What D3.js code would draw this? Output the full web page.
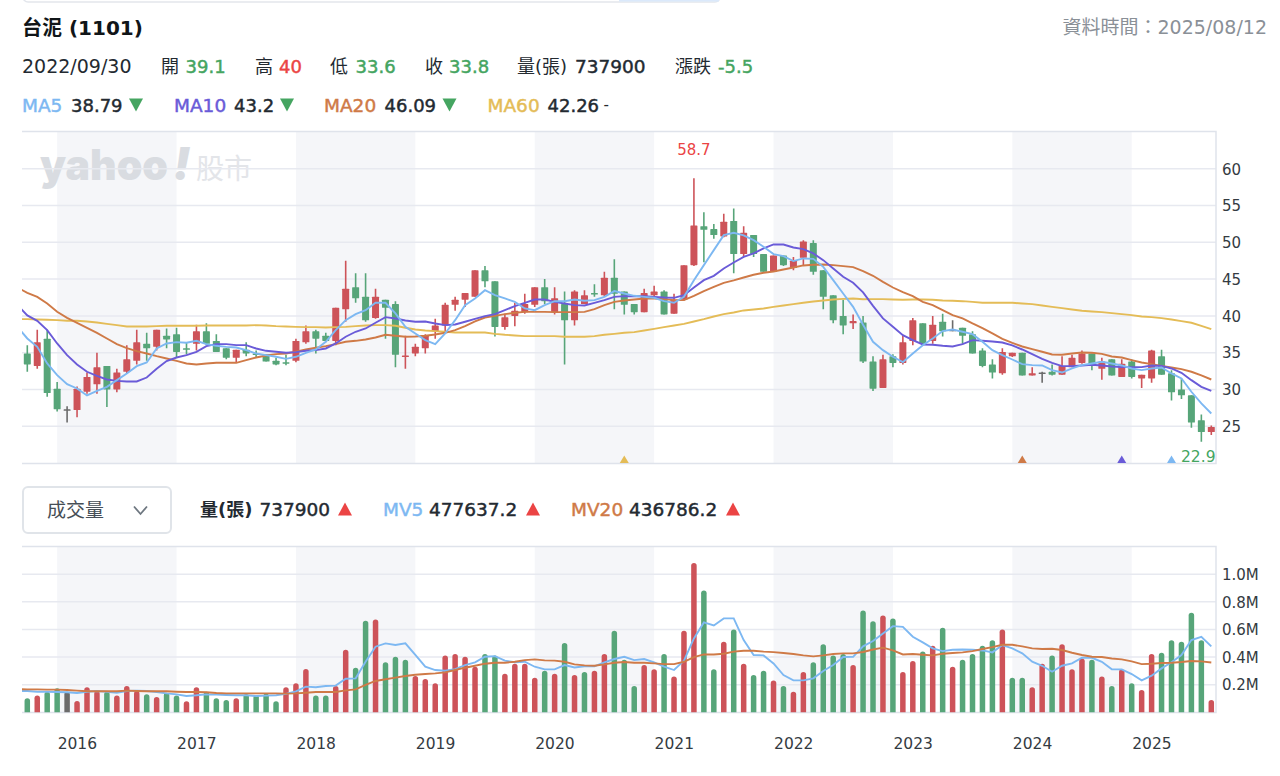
<!DOCTYPE html>
<html lang="zh-Hant">
<head>
  <meta charset="UTF-8">
  <title>台泥 (1101)</title>
  <script src="https://cdn.jsdelivr.net/npm/d3@7"></script>
  <style>
    body { margin: 0; background: #fff; }
    svg { display: block; }
    text { font-family: "DejaVu Sans", "Noto Sans CJK TC", sans-serif; fill: #232a31; }
  </style>
</head>
<body>
  <div id="container"></div>

  <script>
    // Monthly bars, 2015/09 to 2025/08
    const months = d3.utcMonths(new Date(Date.UTC(2015, 8, 1)), new Date(Date.UTC(2025, 8, 1)));

    const opens = [
      34.9,33.2,36.9,30.1,27.3,27.2,29.7,30.7,33.2,30.0,
      32.4,33.9,36.2,35.8,37.3,37.5,35.6,36.2,37.9,36.6,
      35.6,34.3,35.4,34.9,34.8,33.9,33.7,33.9,36.4,37.9,
      37.3,36.6,40.9,43.9,42.6,39.7,42.2,41.6,34.5,34.9,
      35.6,37.9,38.7,41.5,42.2,42.6,46.2,44.7,38.5,40.0,
      40.5,41.5,43.9,40.5,41.6,39.4,41.6,43.1,42.8,45.2,
      43.3,41.6,40.5,42.8,43.3,40.3,42.2,46.9,52.2,51.8,
      50.8,52.9,48.4,51.0,48.4,46.0,48.2,46.5,47.9,49.9,
      46.2,42.8,40.0,39.0,39.1,33.8,30.2,34.5,33.6,36.6,
      39.0,36.6,39.2,38.1,38.4,37.5,35.3,33.4,32.2,34.5,
      35.0,31.9,32.3,32.4,32.0,33.0,33.6,34.9,32.8,34.1,
      31.7,33.8,31.5,31.5,34.5,32.2,30.0,29.2,25.8,24.2
    ];
    const closes = [
      33.4,36.4,29.5,27.3,27.3,30.1,31.7,33.0,30.0,32.3,
      34.1,36.4,35.6,38.1,36.8,35.1,35.4,37.9,36.2,35.1,
      34.3,35.4,34.9,34.8,33.8,33.4,33.6,36.6,37.9,36.9,
      36.6,41.1,43.7,42.4,39.4,42.6,41.1,34.7,34.6,35.8,
      37.3,38.7,41.5,42.2,43.1,46.2,44.7,38.5,39.8,40.7,
      41.6,43.9,42.0,42.4,39.4,43.3,42.8,42.9,45.2,43.0,
      41.5,40.5,43.1,43.3,40.2,42.2,46.9,52.3,51.7,51.0,
      52.8,48.4,51.3,48.4,46.0,48.2,46.9,47.5,50.1,46.0,
      42.6,39.4,38.7,39.3,33.8,30.1,34.1,33.6,36.4,39.4,
      36.2,38.8,37.9,38.1,37.3,34.9,33.2,32.3,35.1,35.0,
      31.9,32.2,32.3,32.0,33.2,34.3,34.9,33.2,33.8,31.9,
      33.5,31.7,32.0,35.3,32.0,29.6,29.2,25.5,24.2,24.9
    ];
    const highs = [
      36.0,38.1,38.1,31.0,27.7,30.4,32.3,35.0,33.2,32.8,
      36.0,38.1,37.7,38.1,38.3,38.4,36.3,38.8,39.0,37.5,
      35.6,35.4,36.4,35.3,34.8,34.3,34.7,36.9,38.7,38.1,
      37.7,41.1,47.5,45.8,45.8,43.7,42.2,42.0,37.3,36.2,
      37.5,39.6,41.8,42.6,43.1,46.2,46.8,44.7,40.3,41.8,
      43.0,43.9,45.0,43.9,43.3,43.5,43.5,44.3,46.0,47.7,
      43.3,41.6,43.7,44.1,43.5,43.0,46.9,58.7,54.1,52.5,
      53.9,54.6,52.2,51.0,48.4,48.2,48.2,48.0,50.3,50.3,
      46.2,42.8,42.2,40.2,40.0,34.5,34.7,34.8,37.3,39.7,
      39.0,40.0,40.3,39.4,38.4,37.9,35.6,34.1,35.6,35.0,
      35.0,33.0,32.4,33.4,34.5,34.7,35.3,34.9,34.3,34.1,
      34.1,34.1,32.0,35.4,35.4,32.6,31.5,29.2,26.6,25.1
    ];
    const lows = [
      32.4,32.8,29.0,27.0,25.5,26.2,29.4,29.4,27.6,29.6,
      32.2,33.4,33.9,35.3,35.6,34.3,34.8,35.3,36.0,35.1,
      34.1,33.7,34.5,34.3,33.8,33.3,33.3,33.7,36.2,34.9,
      36.4,36.0,39.2,41.8,39.2,39.6,36.9,33.0,32.8,34.5,
      34.9,36.9,37.9,40.7,41.2,42.6,43.9,37.2,38.1,38.6,
      40.3,41.2,41.6,40.2,33.4,38.7,41.6,42.6,42.6,40.9,
      40.2,40.2,40.5,42.6,40.2,40.3,42.1,46.8,47.3,50.5,
      50.7,45.8,48.0,48.0,46.0,46.0,46.8,46.2,46.9,45.6,
      40.9,39.0,37.5,38.2,33.6,29.8,30.2,33.0,33.4,36.0,
      36.0,36.2,37.2,37.9,36.2,34.9,33.0,31.5,32.0,34.4,
      31.9,31.9,30.9,31.9,32.0,33.0,33.5,32.6,31.3,31.9,
      31.7,31.5,30.2,30.9,32.0,28.5,28.7,24.8,22.9,23.8
    ];

    // Moving averages. Every list starts one month before the first bar,
    // the line comes in from the left edge of the plot.
    const ma5 = [
      38.5,
      36.93,35.79,33.53,31.94,30.72,30.13,29.18,29.81,30.36,31.26,
      32.17,33.17,33.66,35.57,36.25,36.43,36.34,36.61,36.16,35.93,
      35.79,35.70,35.34,34.89,34.66,34.44,34.16,34.44,34.98,35.43,
      36.48,38.06,39.42,40.24,40.78,41.78,41.78,40.33,38.51,37.61,
      36.70,36.16,37.61,39.42,41.46,42.37,43.50,42.82,42.37,41.91,
      41.01,40.78,41.46,42.00,42.00,42.23,42.05,42.14,42.59,43.37,
      43.05,42.73,42.59,42.46,42.00,41.78,42.59,44.86,46.90,48.94,
      50.98,51.30,50.94,50.30,49.39,48.40,48.13,47.45,47.81,47.76,
      46.67,44.86,43.05,41.23,38.79,36.48,35.34,34.44,33.71,34.89,
      36.02,36.93,37.93,38.15,37.84,37.52,36.48,35.34,34.66,34.07,
      33.44,33.30,33.26,32.62,32.30,32.85,33.30,33.53,33.76,33.53,
      33.26,32.85,32.62,32.85,32.99,32.17,31.49,29.68,28.09,26.73
    ];
    const ma10 = [
      41.5,
      40.06,39.33,38.06,36.25,34.66,33.39,32.40,31.85,31.35,31.17,
      31.08,31.08,31.62,32.80,33.85,34.34,34.66,35.12,35.89,36.16,
      36.16,36.02,36.02,35.57,35.25,35.12,34.98,35.07,35.25,35.34,
      35.57,36.25,37.16,37.84,38.29,39.06,39.83,39.65,39.38,39.20,
      39.24,38.97,38.74,38.83,39.20,39.60,39.97,40.24,40.78,41.33,
      41.78,42.23,42.23,41.91,41.69,41.46,41.42,41.78,42.14,42.59,
      42.68,42.68,42.68,42.59,42.50,42.46,42.82,43.86,44.86,45.45,
      46.45,47.26,48.03,48.49,49.17,49.71,49.71,49.30,49.08,48.49,
      47.58,46.45,45.31,44.50,43.20,41.37,39.65,38.51,37.38,36.70,
      36.11,36.07,35.93,35.84,36.16,36.70,36.61,36.52,36.38,35.98,
      35.43,34.80,34.16,33.62,33.17,33.17,33.26,33.35,33.26,33.12,
      33.03,33.03,33.03,33.26,33.21,32.85,32.26,31.26,30.36,29.81
    ];
    const ma20 = [
      43.86,
      43.14,42.59,41.69,40.55,39.74,39.06,38.38,37.70,36.93,36.16,
      35.61,35.21,34.89,34.53,34.21,33.89,33.53,33.39,33.53,33.62,
      33.62,33.62,33.98,34.34,34.62,34.80,34.89,35.12,35.43,35.66,
      35.89,36.16,36.48,36.61,36.79,37.06,37.43,37.29,37.16,37.20,
      37.29,37.47,37.70,38.06,38.61,39.24,39.78,40.01,40.24,40.42,
      40.55,40.55,40.55,40.51,40.51,40.51,40.55,40.92,41.46,41.91,
      42.10,42.23,42.37,42.37,42.28,42.14,42.14,42.73,43.37,43.95,
      44.50,44.82,45.22,45.59,45.86,46.04,46.31,46.58,46.86,46.95,
      46.99,46.90,46.77,46.63,46.09,45.45,44.63,43.86,43.23,42.69,
      41.91,41.46,40.78,40.10,39.65,38.97,38.33,37.61,36.88,36.34,
      35.84,35.48,35.12,34.75,34.71,34.89,35.02,34.98,34.84,34.48,
      34.34,33.98,33.66,33.44,33.21,32.99,32.76,32.40,31.90,31.35
    ];
    const ma60 = [
      39.56,
      39.56,39.51,39.47,39.42,39.33,39.33,39.24,39.10,38.92,38.74,
      38.56,38.56,38.56,38.61,38.65,38.65,38.65,38.65,38.70,38.70,
      38.70,38.70,38.70,38.74,38.70,38.61,38.56,38.51,38.47,38.47,
      38.42,38.47,38.51,38.61,38.70,38.74,38.74,38.65,38.38,38.15,
      38.02,37.93,37.84,37.74,37.74,37.74,37.74,37.56,37.43,37.34,
      37.25,37.25,37.25,37.25,37.16,37.16,37.16,37.25,37.43,37.56,
      37.70,37.79,38.02,38.24,38.47,38.70,38.92,39.24,39.56,39.92,
      40.24,40.46,40.74,40.87,41.01,41.23,41.42,41.60,41.78,41.96,
      42.10,42.23,42.32,42.37,42.26,42.28,42.28,42.23,42.19,42.23,
      42.23,42.19,42.10,42.05,42.00,41.91,41.78,41.78,41.78,41.78,
      41.69,41.60,41.42,41.23,41.05,40.87,40.69,40.60,40.51,40.37,
      40.24,40.10,39.92,39.83,39.69,39.51,39.29,39.06,38.65,38.20
    ];

    // Volume, in thousands of 張
    const volumes = [
      101,121,149,174,149,82,181,154,149,121,
      190,154,130,111,142,121,80,181,149,101,
      89,101,133,125,137,80,181,210,313,121,
      121,190,453,323,663,672,362,402,381,263,
      241,210,412,422,402,330,422,412,280,352,
      352,251,301,280,501,270,292,301,422,590,
      381,190,342,311,422,260,590,1082,882,311,
      511,600,352,270,301,231,190,149,292,362,
      492,412,422,342,737.9,660,701,680,292,371,
      441,482,612,330,381,422,482,521,600,251,
      251,181,352,412,492,311,390,381,260,190,
      311,210,161,422,431,521,511,721,521,89
    ];
    const mv5 = [
      155,
      154,149,149,147,145,140,149,154,149,142,
      154,157,154,147,137,130,118,123,130,128,
      125,123,123,118,121,123,133,152,186,181,
      190,193,243,246,366,475,499,487,499,415,
      330,306,301,313,342,362,402,407,374,362,
      366,330,311,311,342,325,333,333,362,386,
      402,378,386,362,330,306,374,535,651,629,
      680,680,523,415,412,354,270,231,231,246,
      299,342,400,402,477.6372,516,571,624,619,547,
      506,463,443,453,455,453,448,434,487,463,
      427,366,337,294,337,354,395,395,366,311,
      311,277,231,265,318,362,415,523,547,477
    ];
    const mv20 = [
      168,
      166,166,164,164,161,157,152,152,152,152,
      157,154,152,152,152,149,147,147,145,140,
      137,137,137,137,137,137,135,137,142,147,
      147,147,159,166,198,227,239,251,263,272,
      277,282,289,306,323,337,352,359,359,366,
      378,383,376,374,366,347,340,337,347,359,
      364,359,359,354,349,349,366,400,419,419,
      424,439,446,446,439,436,429,422,412,405,
      412,422,427,427,436.7862,455,468,448,419,422,
      417,412,424,429,434,443,458,472,489,489,
      477,463,458,460,451,431,415,402,400,390,
      383,369,349,352,357,359,364,371,369,361
    ];

    const priceTicks = [25, 30, 35, 40, 45, 50, 55, 60];
    const volumeTicks = [200, 400, 600, 800, 1000];

    // Crossover flags along the bottom of the price panel
    const flagMonths = ["2020/09", "2024/01", "2024/11", "2025/04"];
    const flagSeries = ["MA60", "MA20", "MA10", "MA5"];

    const colors = {
      MA5: "#7db8f2", MA10: "#6a5bd8", MA20: "#cf7a47", MA60: "#e4bc57",
      up: "#cd5359", down: "#57a579", flat: "#6b6b6b",
      upText: "#eb4444", downText: "#45a561",
      grid: "#e7e9f0", border: "#dfe3eb", shade: "#f5f6f9"
    };

    const width = 1280;
    const height = 776;
    const plotLeft = 22;
    const plotRight = 1216;
    const pricePanel = { top: 131.5, bottom: 463.5 };
    const volumePanel = { top: 546.5, bottom: 712.5 };

    const fmtMonth = d3.utcFormat("%Y/%m");
    const monthKeys = months.map(fmtMonth);
    const hover = monthKeys.indexOf("2022/09");

    const x = d3.scaleLinear().domain([0, months.length - 1]).range([27.3, 1211.3]);
    const y = d3.scaleLinear().domain([25, 60]).range([426.2, 168.8]);
    const yVol = d3.scaleLinear().domain([0, 1000]).range([712.3, 574.2]);

    const svg = d3.select("#container")
      .append("svg")
      .attr("width", width)
      .attr("height", height)
      .attr("viewBox", [0, 0, width, height]);

    const defs = svg.append("defs");
    defs.append("clipPath").attr("id", "clip-price").append("rect")
      .attr("x", plotLeft).attr("y", pricePanel.top)
      .attr("width", plotRight - plotLeft).attr("height", pricePanel.bottom - pricePanel.top);
    defs.append("clipPath").attr("id", "clip-volume").append("rect")
      .attr("x", plotLeft).attr("y", volumePanel.top)
      .attr("width", plotRight - plotLeft).attr("height", yVol(0) - volumePanel.top);

    // Header. DejaVu has no medium weight, a thin stroke of the same colour stands in for it
    function label(str, px, py, opts = {}) {
      const color = opts.color || "#232a31";
      return svg.append("text")
        .attr("x", px).attr("y", py)
        .attr("font-size", opts.size || 18)
        .attr("font-weight", opts.weight || 400)
        .attr("text-anchor", opts.anchor || "start")
        .attr("dominant-baseline", "central")
        .style("fill", color)
        .style("stroke", opts.medium ? color : "none")
        .style("stroke-width", opts.medium ? 0.45 : 0)
        .text(str);
    }
    function triangle(cx, cy, w, h, dir, color) {
      svg.append("path")
        .attr("d", `M${cx - w / 2},${cy - dir * h / 2}L${cx + w / 2},${cy - dir * h / 2}L${cx},${cy + dir * h / 2}Z`)
        .attr("fill", color);
    }

    // tab strip cut off by the top of the picture
    svg.append("rect").attr("x", 23).attr("y", -30).attr("width", 697).attr("height", 32)
      .attr("rx", 5).attr("fill", "#fff").attr("stroke", "#e3e6ec").attr("stroke-width", 1.5);
    svg.append("rect").attr("x", 619).attr("y", 0).attr("width", 100).attr("height", 1.6).attr("fill", "#dbe9fb");

    label("台泥 (1101)", 22, 28, { size: 20, weight: 700, color: "#101518" });
    label("資料時間：2025/08/12", 1267, 27, { size: 19, anchor: "end", color: "#8a9097" });

    const hoverChange = closes[hover] - closes[hover - 1];
    label("2022/09/30", 22, 66, { size: 19 });
    label("開", 161, 66); label(opens[hover], 185.5, 66, { color: colors.downText, medium: true });
    label("高", 255, 66); label(highs[hover], 279, 66, { color: colors.upText, medium: true });
    label("低", 330, 66); label(lows[hover], 355.5, 66, { color: colors.downText, medium: true });
    label("收", 425, 66); label(closes[hover], 449, 66, { color: colors.downText, medium: true });
    label("量(張)", 517, 66); label(volumes[hover] * 1000, 575, 66, { size: 18.5, medium: true });
    label("漲跌", 675, 66); label(hoverChange.toFixed(1), 718, 66, { color: colors.downText, medium: true });

    label("MA5", 22, 105, { color: colors.MA5, size: 18.5, medium: true });
    label(ma5[hover + 1], 71, 105, { medium: true });
    triangle(136, 105, 14, 13, 1, colors.downText);
    label("MA10", 174, 105, { color: colors.MA10, size: 18.5, medium: true });
    label(ma10[hover + 1], 234, 105, { medium: true });
    triangle(287, 105, 14, 13, 1, colors.downText);
    label("MA20", 324, 105, { color: colors.MA20, size: 18.5, medium: true });
    label(ma20[hover + 1], 384.5, 105, { medium: true });
    triangle(449.5, 105, 14, 13, 1, colors.downText);
    label("MA60", 487.5, 105, { color: colors.MA60, size: 18.5, medium: true });
    label(ma60[hover + 1], 547.5, 105, { medium: true });
    label("-", 603.5, 105, { size: 15 });

    // Volume header with the dropdown
    svg.append("rect").attr("x", 23).attr("y", 487).attr("width", 148).attr("height", 46)
      .attr("rx", 5).attr("fill", "#fff").attr("stroke", "#e0e4e9").attr("stroke-width", 2);
    label("成交量", 47, 510, { size: 19, color: "#464e56" });
    svg.append("path").attr("d", "M134,506.5L140.5,514L147,506.5")
      .attr("fill", "none").attr("stroke", "#6e7780").attr("stroke-width", 1.8);

    label("量(張)", 200, 509, { weight: 700 });
    label(volumes[hover] * 1000, 259.5, 509, { size: 18.5, medium: true });
    triangle(345, 509, 14, 13, -1, colors.upText);
    label("MV5", 383, 509, { color: colors.MA5, size: 18.5, medium: true });
    label(+(mv5[hover + 1] * 1000).toFixed(1), 429, 509, { size: 18.5, medium: true });
    triangle(533, 509, 14, 13, -1, colors.upText);
    label("MV20", 571, 509, { color: colors.MA20, size: 18.5, medium: true });
    label(+(mv20[hover + 1] * 1000).toFixed(1), 629, 509, { size: 18.5, medium: true });
    triangle(733, 509, 14, 13, -1, colors.upText);

    // Alternate year bands, year starts where the December bar sits
    const yearStarts = monthKeys.map((m, i) => m.endsWith("/12") ? i : -1).filter(i => i >= 0);
    const shaded = yearStarts.filter((d, i) => i % 2 === 0);

    [pricePanel, volumePanel].forEach(panel => {
      svg.append("g").selectAll("rect")
        .data(shaded)
        .join("rect")
        .attr("x", d => x(d))
        .attr("y", panel.top)
        .attr("width", d => x(d + 12) - x(d))
        .attr("height", panel.bottom - panel.top)
        .attr("fill", colors.shade);
    });

    // Watermark, under the grid
    svg.append("text")
      .attr("x", 40).attr("y", 180)
      .attr("font-size", 42).attr("font-weight", 900)
      .attr("textLength", 128).attr("lengthAdjust", "spacingAndGlyphs")
      .style("font-family", "Inter, sans-serif")
      .style("fill", "#d9dce1")
      .text("yahoo");
    svg.append("text")
      .attr("x", 173).attr("y", 180)
      .attr("font-size", 46).attr("font-weight", 900).attr("font-style", "italic")
      .style("font-family", "Inter, sans-serif")
      .style("fill", "#d9dce1")
      .text("!");
    svg.append("text")
      .attr("x", 196).attr("y", 179)
      .attr("font-size", 28)
      .style("fill", "#e3e5e9")
      .text("股市");

    // Grid lines
    svg.append("g").selectAll("line")
      .data(priceTicks)
      .join("line")
      .attr("x1", plotLeft).attr("x2", plotRight)
      .attr("y1", d => y(d)).attr("y2", d => y(d))
      .attr("stroke", colors.grid).attr("stroke-width", 1.5);
    svg.append("g").selectAll("line")
      .data(volumeTicks)
      .join("line")
      .attr("x1", plotLeft).attr("x2", plotRight)
      .attr("y1", d => yVol(d)).attr("y2", d => yVol(d))
      .attr("stroke", colors.grid).attr("stroke-width", 1.5);

    // Panel borders
    [pricePanel, volumePanel].forEach(panel => {
      svg.append("path")
        .attr("d", `M${plotLeft},${panel.top}H${plotRight}V${panel.bottom}H${plotLeft}`)
        .attr("fill", "none").attr("stroke", colors.border).attr("stroke-width", 1.5);
    });

    // Candles, coloured against their own open
    const colorOf = i => closes[i] > opens[i] ? colors.up : closes[i] < opens[i] ? colors.down : colors.flat;
    const candleG = svg.append("g").attr("clip-path", "url(#clip-price)");
    candleG.selectAll("line")
      .data(d3.range(months.length))
      .join("line")
      .attr("x1", i => x(i)).attr("x2", i => x(i))
      .attr("y1", i => y(highs[i])).attr("y2", i => y(lows[i]))
      .attr("stroke", colorOf).attr("stroke-width", 1.6);
    candleG.selectAll("rect")
      .data(d3.range(months.length))
      .join("rect")
      .attr("x", i => x(i) - 3.5)
      .attr("width", 7)
      .attr("y", i => y(Math.max(opens[i], closes[i])))
      .attr("height", i => Math.max(1.5, Math.abs(y(opens[i]) - y(closes[i]))))
      .attr("rx", 0.6)
      .attr("fill", colorOf);

    // MA lines
    const maLine = d3.line().x((d, i) => x(i - 1)).y(d => y(d));
    const lineG = svg.append("g").attr("clip-path", "url(#clip-price)").attr("fill", "none").attr("stroke-width", 1.9);
    lineG.append("path").attr("d", maLine(ma60)).attr("stroke", colors.MA60);
    lineG.append("path").attr("d", maLine(ma20)).attr("stroke", colors.MA20);
    lineG.append("path").attr("d", maLine(ma10)).attr("stroke", colors.MA10);
    lineG.append("path").attr("d", maLine(ma5)).attr("stroke", colors.MA5);

    // High and low labels
    const maxHigh = d3.max(highs);
    const minLow = d3.min(lows);
    label(maxHigh, x(highs.indexOf(maxHigh)), 150, { size: 15, anchor: "middle", color: colors.upText });
    label(minLow, plotRight - 0.5, 457, { size: 15.5, anchor: "end", color: colors.downText });

    // Flags
    svg.append("g").selectAll("path")
      .data(flagMonths)
      .join("path")
      .attr("transform", d => `translate(${x(monthKeys.indexOf(d))},459.5)`)
      .attr("d", "M-4.5,3.5L4.5,3.5L0,-4Z")
      .attr("fill", (d, i) => colors[flagSeries[i]]);

    // Volume bars are coloured against the previous close, rounded on top,
    // the lower end is hidden by the clip
    const volumeColor = i => i === 0 || closes[i] === closes[i - 1]
      ? (i === 0 ? colorOf(0) : colors.flat)
      : closes[i] > closes[i - 1] ? colors.up : colors.down;
    const volG = svg.append("g").attr("clip-path", "url(#clip-volume)");
    volG.selectAll("rect")
      .data(volumes)
      .join("rect")
      .attr("x", (d, i) => x(i) - 2.75)
      .attr("width", 5.5)
      .attr("y", d => yVol(d))
      .attr("height", d => yVol(0) - yVol(d) + 6)
      .attr("rx", 2.75)
      .attr("fill", (d, i) => volumeColor(i));

    const mvLine = d3.line().x((d, i) => x(i - 1)).y(d => yVol(d));
    const mvG = svg.append("g").attr("clip-path", "url(#clip-volume)").attr("fill", "none").attr("stroke-width", 1.9);
    mvG.append("path").attr("d", mvLine(mv5)).attr("stroke", colors.MA5);
    mvG.append("path").attr("d", mvLine(mv20)).attr("stroke", colors.MA20);

    // Axes
    const priceAxis = svg.append("g")
      .attr("transform", `translate(${plotRight},0.5)`)
      .call(d3.axisRight(y).tickValues(priceTicks).tickSize(0).tickPadding(6));
    const volumeAxis = svg.append("g")
      .attr("transform", `translate(${plotRight},0.5)`)
      .call(d3.axisRight(yVol).tickValues(volumeTicks).tickSize(0).tickPadding(6)
        .tickFormat(d => (d / 1000).toFixed(1) + "M"));
    const yearAxis = svg.append("g")
      .attr("transform", "translate(0,737.5)")
      .call(d3.axisBottom(x).tickValues(yearStarts).tickSize(0).tickPadding(0)
        .tickFormat(i => months[i].getUTCFullYear() + 1));

    [priceAxis, volumeAxis, yearAxis].forEach(g => {
      g.select(".domain").remove();
      g.selectAll("text").attr("font-size", 15).style("font-family", "'DejaVu Sans', sans-serif").style("fill", "#343b42");
    });
    yearAxis.selectAll("text").attr("text-anchor", "start").attr("font-size", 15.5);
  </script>
</body>
</html>
